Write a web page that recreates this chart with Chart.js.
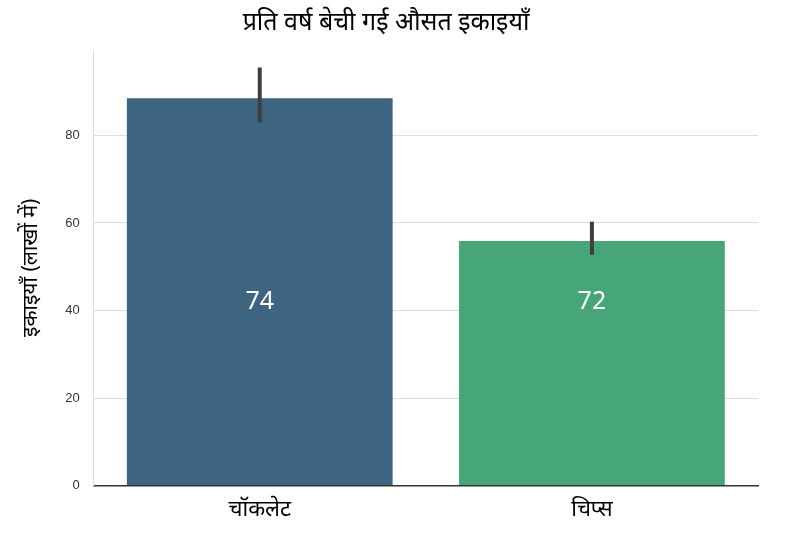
<!DOCTYPE html>
<html><head><meta charset="utf-8">
<script src="https://cdn.jsdelivr.net/npm/chart.js@4"></script>
<style>html,body{margin:0;background:#fff}#w{width:786px;height:550px}</style>
</head><body><div id="w"><canvas id="c"></canvas></div>
<script>
const categories = ['चॉकलेट', 'चिप्स'];
const values = [88.5, 55.9];
const errLow = [82.9, 52.7];
const errHigh = [95.5, 60.3];
const barLabels = ['74', '72'];
const labelLevel = 42;
const colors = ['#3d6480', '#47a678'];

const extras = {
  id: 'extras',
  afterDatasetsDraw(chart) {
    const {ctx, scales: {x, y}} = chart;
    ctx.save();
    categories.forEach((c, i) => {
      const px = x.getPixelForValue(i);
      ctx.strokeStyle = '#3f3f3f'; ctx.lineWidth = 4; ctx.lineCap = 'butt';
      ctx.beginPath(); ctx.moveTo(px, y.getPixelForValue(errLow[i])); ctx.lineTo(px, y.getPixelForValue(errHigh[i])); ctx.stroke();
      ctx.fillStyle = '#fff'; ctx.font = '25px "Noto Sans", sans-serif';
      ctx.textAlign = 'center'; ctx.textBaseline = 'middle';
      ctx.fillText(barLabels[i], px, y.getPixelForValue(labelLevel));
    });
    ctx.restore();
  }
};

new Chart(document.getElementById('c'), {
  type: 'bar',
  data: { labels: categories, datasets: [{ data: values, backgroundColor: colors, barPercentage: 0.8, categoryPercentage: 1 }] },
  options: {
    responsive: true, maintainAspectRatio: false, animation: false,
    layout: { padding: { right: 28, top: 0, left: 14, bottom: 24 } },
    plugins: {
      legend: { display: false }, tooltip: { enabled: false },
      title: { display: true, text: 'प्रति वर्ष बेची गई औसत इकाइयाँ', color: '#000', font: { size: 25, family: '"Noto Sans", sans-serif', weight: 'normal' }, padding: { top: 8, bottom: 12 } }
    },
    scales: {
      x: { grid: { display: false }, border: { color: '#333', width: 1.5 },
           ticks: { color: '#000', font: { size: 22, family: '"Noto Sans", sans-serif' } } },
      y: { min: 0, max: 99.5, border: { color: '#ddd' },
           ticks: { stepSize: 20, color: '#333', font: { size: 13 }, padding: 14, callback: v => v % 20 === 0 ? v : null },
           grid: { color: '#ddd', drawTicks: false },
           title: { display: true, text: 'इकाइयाँ (लाखों में)', color: '#000', padding: { bottom: 8 }, font: { size: 21, family: '"Noto Sans", sans-serif' } } }
    }
  },
  plugins: [extras]
});
</script></body></html>
